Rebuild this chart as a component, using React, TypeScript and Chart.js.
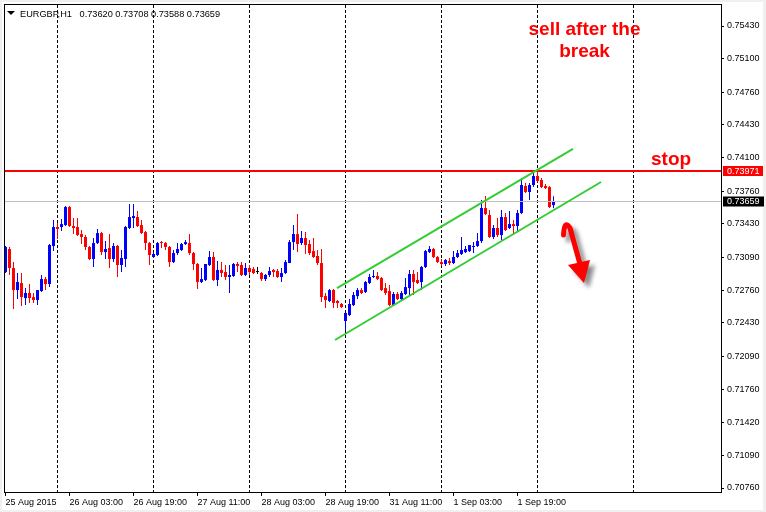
import React, { useEffect, useRef } from "react";
import { Chart, registerables } from "chart.js";

Chart.register(...registerables);

const FONT = "'Liberation Sans', Arial, sans-serif";

// ---- Data: EURGBP H1 candles ----
const symbol = "EURGBP,H1";

const opens = [0.72943,0.73176,0.72984,0.72761,0.72832,0.72680,0.72731,0.72690,0.72660,0.72751,
0.72872,0.72822,0.73206,0.73398,0.73398,0.73418,0.73600,0.73408,0.73398,0.73327,
0.73297,0.73196,0.73075,0.73236,0.73337,0.73145,0.73186,0.73075,0.73206,0.73014,
0.73075,0.73388,0.73489,0.73499,0.73418,0.73347,0.73236,0.73095,0.73115,0.73246,
0.73236,0.73196,0.73044,0.73135,0.73166,0.73226,0.73236,0.73135,0.73024,0.72842,
0.72863,0.73014,0.73095,0.72863,0.72964,0.72943,0.72893,0.72903,0.73024,0.73014,
0.72913,0.72984,0.72973,0.72943,0.72933,0.72872,0.72913,0.72964,0.72953,0.72893,
0.72933,0.73034,0.73246,0.73327,0.73236,0.73287,0.73226,0.73155,0.73105,0.73034,
0.72700,0.72650,0.72761,0.72650,0.72620,0.72448,0.72508,0.72609,0.72700,0.72761,
0.72741,0.72832,0.72893,0.72903,0.72882,0.72781,0.72751,0.72609,0.72721,0.72670,
0.72721,0.72781,0.72923,0.72863,0.72842,0.72994,0.73145,0.73176,0.73095,0.73044,
0.73024,0.73054,0.73034,0.73095,0.73125,0.73145,0.73155,0.73196,0.73206,0.73256,
0.73590,0.73519,0.73297,0.73388,0.73317,0.73499,0.73388,0.73428,0.73408,0.73540,
0.73813,0.73752,0.73823,0.73914,0.73873,0.73813,0.73802,0.73620];

const highs = [0.73206,0.73196,0.73044,0.72933,0.72933,0.72781,0.72822,0.72731,0.72761,0.72913,
0.72893,0.73226,0.73469,0.73438,0.73479,0.73610,0.73610,0.73489,0.73489,0.73368,
0.73317,0.73206,0.73287,0.73378,0.73347,0.73256,0.73327,0.73236,0.73216,0.73166,
0.73408,0.73631,0.73631,0.73560,0.73469,0.73358,0.73246,0.73145,0.73246,0.73256,
0.73246,0.73206,0.73166,0.73236,0.73236,0.73267,0.73327,0.73145,0.73034,0.72984,
0.73024,0.73155,0.73145,0.73054,0.73044,0.73014,0.73014,0.73034,0.73044,0.73044,
0.73034,0.73014,0.72994,0.72994,0.72943,0.72923,0.72994,0.72973,0.72973,0.72984,
0.73065,0.73267,0.73418,0.73529,0.73358,0.73347,0.73267,0.73287,0.73166,0.73176,
0.72731,0.72771,0.72771,0.72660,0.72630,0.72529,0.72670,0.72741,0.72781,0.72781,
0.72852,0.72923,0.72964,0.72943,0.72893,0.72832,0.72812,0.72741,0.72741,0.72751,
0.72882,0.72964,0.72964,0.72943,0.73004,0.73166,0.73206,0.73186,0.73105,0.73075,
0.73075,0.73085,0.73155,0.73166,0.73297,0.73206,0.73216,0.73246,0.73337,0.73671,
0.73711,0.73570,0.73418,0.73489,0.73570,0.73540,0.73560,0.73469,0.73570,0.73893,
0.73843,0.73843,0.73944,0.73984,0.73893,0.73833,0.73813,0.73708];

const lows = [0.72933,0.72913,0.72569,0.72670,0.72599,0.72609,0.72630,0.72630,0.72609,0.72741,
0.72761,0.72791,0.73155,0.73277,0.73358,0.73408,0.73398,0.73327,0.73307,0.73226,
0.73166,0.73065,0.72994,0.73226,0.73115,0.73075,0.72984,0.73044,0.72893,0.72943,
0.72994,0.73378,0.73388,0.73398,0.73327,0.73166,0.73014,0.73085,0.73105,0.73186,
0.73166,0.72994,0.73034,0.73115,0.73155,0.73216,0.73115,0.72964,0.72771,0.72832,
0.72852,0.73004,0.72852,0.72802,0.72893,0.72863,0.72731,0.72893,0.72943,0.72903,
0.72903,0.72913,0.72923,0.72923,0.72852,0.72852,0.72893,0.72893,0.72882,0.72842,
0.72923,0.73034,0.73166,0.73145,0.73216,0.73125,0.73115,0.73085,0.73014,0.72640,
0.72579,0.72640,0.72579,0.72579,0.72579,0.72347,0.72498,0.72599,0.72670,0.72721,
0.72731,0.72822,0.72882,0.72863,0.72751,0.72711,0.72599,0.72599,0.72660,0.72650,
0.72711,0.72700,0.72711,0.72822,0.72761,0.72984,0.73135,0.73085,0.73034,0.73004,
0.73004,0.73014,0.73024,0.73085,0.73115,0.73135,0.73145,0.73135,0.73196,0.73236,
0.73519,0.73287,0.73277,0.73297,0.73267,0.73358,0.73378,0.73317,0.73347,0.73529,
0.73742,0.73671,0.73802,0.73853,0.73792,0.73782,0.73590,0.73588];

const closes = [0.73196,0.72984,0.72761,0.72842,0.72690,0.72731,0.72680,0.72660,0.72761,0.72872,
0.72822,0.73216,0.73398,0.73378,0.73428,0.73600,0.73408,0.73388,0.73317,0.73297,
0.73196,0.73075,0.73236,0.73337,0.73145,0.73176,0.73075,0.73206,0.73014,0.73085,
0.73398,0.73499,0.73509,0.73408,0.73337,0.73236,0.73115,0.73125,0.73236,0.73236,
0.73196,0.73044,0.73135,0.73176,0.73226,0.73246,0.73135,0.73024,0.72842,0.72872,
0.73024,0.73095,0.72863,0.72964,0.72933,0.72893,0.72913,0.73024,0.73004,0.72913,
0.72984,0.72943,0.72933,0.72943,0.72872,0.72913,0.72953,0.72943,0.72893,0.72933,
0.73044,0.73246,0.73327,0.73226,0.73287,0.73216,0.73135,0.73095,0.73034,0.72690,
0.72660,0.72761,0.72630,0.72630,0.72589,0.72529,0.72620,0.72711,0.72761,0.72731,
0.72842,0.72893,0.72903,0.72872,0.72761,0.72731,0.72609,0.72721,0.72670,0.72731,
0.72791,0.72923,0.72842,0.72832,0.72994,0.73155,0.73176,0.73095,0.73044,0.73024,
0.73065,0.73034,0.73095,0.73135,0.73166,0.73176,0.73216,0.73206,0.73256,0.73590,
0.73529,0.73297,0.73388,0.73317,0.73499,0.73368,0.73428,0.73408,0.73540,0.73823,
0.73752,0.73823,0.73914,0.73863,0.73802,0.73792,0.73600,0.73659];

// axis ticks
const yTickValues = [0.7543, 0.751, 0.7476, 0.7443, 0.741, 0.7376, 0.7343, 0.7309, 0.7276, 0.7243, 0.7209, 0.7176, 0.7142, 0.7109, 0.7076];
const xTickIndex = [0, 16, 32, 48, 64, 80, 96, 112, 128];
const xTickLabels = ["25 Aug 2015", "26 Aug 03:00", "26 Aug 19:00", "27 Aug 11:00", "28 Aug 03:00", "28 Aug 19:00", "31 Aug 11:00", "1 Sep 03:00", "1 Sep 19:00"];
const dayStartIndex = [13, 37, 61, 85, 109, 133, 157];

// horizontal levels
const stopLevel = 0.73971;
const bidLevel = closes[closes.length - 1];

// channel (bar index, price)
const channelUpper = [[82.875, 0.72781], [141.875, 0.74187]];
const channelLower = [[82.375, 0.72256], [148.875, 0.73853]];

// annotation anchors (bar index, price)
const sellText = { lines: ["sell after the", "break"], x: 144.75, y: [0.75339, 0.75117] };
const stopText = { text: "stop", x: 166.4, y: 0.74025 };
const arrowAnchor = { x: 140.125, y: 0.73449 };

const X_MIN = -0.375;
const X_MAX = 178.875;
const Y_MIN = 0.707196;
const Y_MAX = 0.756524;

const BULL = "#0000FF";
const BEAR = "#FF0000";
const DOJI = "#000000";

function drawArrow(ctx: CanvasRenderingContext2D, ax: number, ay: number) {
  ctx.save();
  ctx.shadowColor = "rgba(0,0,0,0.45)";
  ctx.shadowBlur = 4;
  ctx.shadowOffsetX = 5;
  ctx.shadowOffsetY = 5;
  ctx.strokeStyle = "#FF0000";
  ctx.fillStyle = "#FF0000";
  ctx.lineWidth = 5;
  ctx.lineCap = "round";
  ctx.lineJoin = "round";
  ctx.beginPath();
  ctx.moveTo(ax - 2.5, ay + 13);
  ctx.quadraticCurveTo(ax - 1.5, ay - 3, ax + 4, ay + 6);
  ctx.lineTo(ax + 14, ay + 42);
  ctx.stroke();
  ctx.beginPath();
  ctx.moveTo(ax + 2, ay + 43);
  ctx.lineTo(ax + 24, ay + 38);
  ctx.lineTo(ax + 18, ay + 61);
  ctx.closePath();
  ctx.fill();
  ctx.restore();
}

export default function App() {
  const ref = useRef<HTMLCanvasElement>(null);

  useEffect(() => {
    document.body.style.margin = "0";
    const canvas = ref.current;
    if (!canvas) return;

    const idx = opens.map((_, i) => i);
    const colors = idx.map((i) => (closes[i] > opens[i] ? BULL : closes[i] < opens[i] ? BEAR : DOJI));
    const wickData = idx.map((i) => ({ x: i, y: [lows[i], highs[i]] }));
    const bodyData = idx.map((i) => ({ x: i, y: [opens[i], closes[i]] }));

    const overlay = {
      id: "mt4overlay",
      beforeDraw(chart: any) {
        const { ctx, width, height } = chart;
        ctx.save();
        ctx.fillStyle = "#F0F0F0";
        ctx.fillRect(0, 0, width, height);
        ctx.fillStyle = "#FFFFFF";
        ctx.fillRect(2, 2, 761, 508);
        ctx.restore();
      },
      beforeDatasetsDraw(chart: any) {
        const { ctx, chartArea: a } = chart;
        const xs = chart.scales.x;
        ctx.save();
        ctx.strokeStyle = "#000000";
        ctx.lineWidth = 1;
        ctx.setLineDash([3, 2]);
        for (const d of dayStartIndex) {
          const px = Math.floor(xs.getPixelForValue(d)) + 0.5;
          ctx.beginPath();
          ctx.moveTo(px, a.top + 1);
          ctx.lineTo(px, a.bottom);
          ctx.stroke();
        }
        ctx.restore();
      },
      afterDatasetsDraw(chart: any) {
        const { ctx, chartArea: a } = chart;
        const xs = chart.scales.x;
        const ys = chart.scales.y;
        ctx.save();
        // bid line
        const by = Math.floor(ys.getPixelForValue(bidLevel)) + 0.5;
        ctx.strokeStyle = "#C0C0C0";
        ctx.lineWidth = 1;
        ctx.beginPath();
        ctx.moveTo(a.left, by);
        ctx.lineTo(a.right, by);
        ctx.stroke();
        // stop line
        const sy = Math.floor(ys.getPixelForValue(stopLevel)) + 1;
        ctx.strokeStyle = "#FF0000";
        ctx.lineWidth = 2;
        ctx.beginPath();
        ctx.moveTo(a.left, sy);
        ctx.lineTo(a.right, sy);
        ctx.stroke();
        // channel
        ctx.strokeStyle = "#32CD32";
        ctx.lineWidth = 2;
        for (const seg of [channelUpper, channelLower]) {
          ctx.beginPath();
          ctx.moveTo(xs.getPixelForValue(seg[0][0]), ys.getPixelForValue(seg[0][1]));
          ctx.lineTo(xs.getPixelForValue(seg[1][0]), ys.getPixelForValue(seg[1][1]));
          ctx.stroke();
        }
        ctx.restore();
      },
      afterDraw(chart: any) {
        const { ctx, chartArea: a } = chart;
        const xs = chart.scales.x;
        const ys = chart.scales.y;
        ctx.save();
        // frame
        ctx.strokeStyle = "#000000";
        ctx.lineWidth = 1;
        ctx.strokeRect(a.left + 0.5, a.top + 0.5, a.right - a.left, a.bottom - a.top);

        // price boxes on the axis
        ctx.font = `9px ${FONT}`;
        ctx.textBaseline = "middle";
        ctx.textAlign = "left";
        const sy = Math.floor(ys.getPixelForValue(stopLevel)) + 1;
        ctx.fillStyle = "#FF0000";
        ctx.fillRect(a.right + 2, sy - 5, 40, 10);
        ctx.fillStyle = "#FFFFFF";
        ctx.fillText(stopLevel.toFixed(5), a.right + 6, sy + 0.5);
        const by = Math.floor(ys.getPixelForValue(bidLevel)) + 0.5;
        ctx.fillStyle = "#000000";
        ctx.fillRect(a.right + 2, by - 5, 41, 10);
        ctx.fillStyle = "#FFFFFF";
        ctx.fillText(bidLevel.toFixed(5), a.right + 6, by + 0.5);

        // header
        ctx.fillStyle = "#000000";
        ctx.beginPath();
        ctx.moveTo(7, 11);
        ctx.lineTo(15, 11);
        ctx.lineTo(11, 15);
        ctx.closePath();
        ctx.fill();
        const n = opens.length - 1;
        const header = `${symbol}   ${opens[n].toFixed(5)} ${highs[n].toFixed(5)} ${lows[n].toFixed(5)} ${closes[n].toFixed(5)}`;
        ctx.textBaseline = "alphabetic";
        ctx.font = `9.2px ${FONT}`;
        ctx.fillText(header, 20, 17);

        // annotations
        ctx.fillStyle = "#FF0000";
        ctx.font = `bold 19px ${FONT}`;
        ctx.textAlign = "center";
        sellText.lines.forEach((t, k) => {
          ctx.fillText(t, xs.getPixelForValue(sellText.x), ys.getPixelForValue(sellText.y[k]));
        });
        ctx.fillText(stopText.text, xs.getPixelForValue(stopText.x), ys.getPixelForValue(stopText.y));

        drawArrow(ctx, xs.getPixelForValue(arrowAnchor.x), ys.getPixelForValue(arrowAnchor.y));
        ctx.restore();
      },
    };

    const chart = new Chart(canvas, {
      type: "bar",
      data: {
        datasets: [
          {
            data: wickData as any,
            backgroundColor: colors,
            barThickness: 1,
            grouped: false,
            inflateAmount: 0,
            borderWidth: 0,
          } as any,
          {
            data: bodyData as any,
            backgroundColor: colors,
            barThickness: 3,
            grouped: false,
            inflateAmount: 0,
            borderWidth: 0,
            minBarLength: 1,
          } as any,
        ],
      },
      options: {
        animation: false,
        responsive: false,
        devicePixelRatio: 1,
        events: [],
        layout: { padding: { left: 4, top: 4, right: 0, bottom: 0 } },
        plugins: { legend: { display: false }, tooltip: { enabled: false } },
        scales: {
          x: {
            type: "linear",
            position: "bottom",
            min: X_MIN,
            max: X_MAX,
            bounds: "data",
            offset: false,
            afterBuildTicks: (s: any) => {
              s.ticks = xTickIndex.map((v) => ({ value: v }));
            },
            afterFit: (s: any) => {
              s.height = 20;
              s.paddingLeft = 0;
              s.paddingRight = 0;
            },
            grid: { drawOnChartArea: false, drawTicks: true, tickLength: 4, color: "#000000", offset: false },
            border: { display: false },
            ticks: {
              autoSkip: false,
              maxRotation: 0,
              minRotation: 0,
              align: "start",
              padding: 1,
              color: "#000000",
              font: { family: FONT, size: 9 },
              callback: (_v: any, i: number) => xTickLabels[i],
            },
          } as any,
          y: {
            type: "linear",
            position: "right",
            min: Y_MIN,
            max: Y_MAX,
            bounds: "data",
            afterBuildTicks: (s: any) => {
              s.ticks = yTickValues.map((v) => ({ value: v }));
            },
            afterFit: (s: any) => {
              s.width = 45;
              s.paddingTop = 0;
              s.paddingBottom = 0;
            },
            grid: { drawOnChartArea: false, drawTicks: true, tickLength: 3, color: "#000000" },
            border: { display: false },
            ticks: {
              autoSkip: false,
              padding: 3,
              crossAlign: "near",
              color: "#000000",
              font: { family: FONT, size: 9 },
              callback: (v: any) => Number(v).toFixed(5),
            },
          } as any,
        },
      },
      plugins: [overlay],
    });

    return () => chart.destroy();
  }, []);

  return (
    <div style={{ position: "absolute", left: 0, top: 0, width: 766, height: 512 }}>
      <canvas ref={ref} width={766} height={512} style={{ display: "block", width: 766, height: 512 }} />
    </div>
  );
}
